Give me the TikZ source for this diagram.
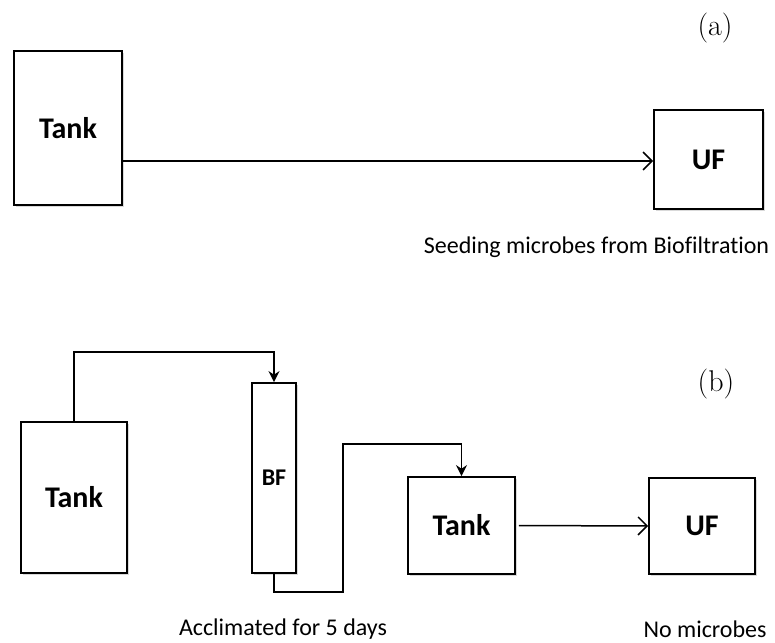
\documentclass[tikz,border=0pt]{standalone}
\usepackage{fontspec}
\newfontfamily\calib[Ligatures=NoCommon]{Carlito}
\usetikzlibrary{arrows.meta,shadows}
\begin{document}
\begin{tikzpicture}[x=1pt,y=-1pt,
  box/.style={draw=black,line width=1.8pt,fill=white,inner sep=0pt,
    drop shadow={shadow xshift=2pt,shadow yshift=-2pt,fill=black,opacity=0.15},
    font=\calib\bfseries\fontsize{30}{34}\selectfont},
  conn/.style={line width=1.5pt},
  capt/.style={font=\calib\fontsize{24}{28}\selectfont,inner sep=0pt},
  lbl/.style={font=\fontsize{30}{34}\selectfont,inner sep=0pt},
  openarr/.style={-{Straight Barb[length=9pt,width=18pt,line width=1.5pt]}},
  fillarr/.style={-{Stealth[length=11pt,width=11pt]}}]
\useasboundingbox (0,0) rectangle (775,642);
% (a)
\node[lbl] (la) at (715,28) {(a)};
\node[box,minimum width=108pt,minimum height=154pt] (tankA) at (68,128) {Tank};
\node[box,minimum width=109pt,minimum height=99pt] (ufA) at (708.5,159.5) {UF};
\draw[conn,openarr] (tankA.east |- 0,161) -- (ufA.west |- 0,161);
\node[capt] (capA) at (596.5,247) {Seeding microbes from Biofiltration};
% (b)
\node[lbl] (lb) at (716,384) {(b)};
\node[box,minimum width=106pt,minimum height=151pt] (tank1) at (74,497.5) {Tank};
\node[box,minimum width=44pt,minimum height=190pt,font=\calib\bfseries\fontsize{24}{28}\selectfont] (bf) at (274,478) {BF};
\node[box,minimum width=107pt,minimum height=97pt] (tank2) at (461.5,525.5) {Tank};
\node[box,minimum width=106pt,minimum height=96pt] (ufB) at (702,526) {UF};
\coordinate (p1) at (74,352);
\coordinate (p2) at (274,592);
\coordinate (p3) at (343,444);
\draw[conn,fillarr] (tank1.north) -- (p1) -| (bf.north);
\draw[conn,fillarr] (bf.south) -- (p2) -| (p3) -| (tank2.north);
\draw[conn,openarr] ([xshift=3pt]tank2.east) -- (ufB.west);
\node[capt] (capB1) at (283,629) {Acclimated for 5 days};
\node[capt] (capB2) at (705,629) {No microbes};
\end{tikzpicture}
\end{document}
